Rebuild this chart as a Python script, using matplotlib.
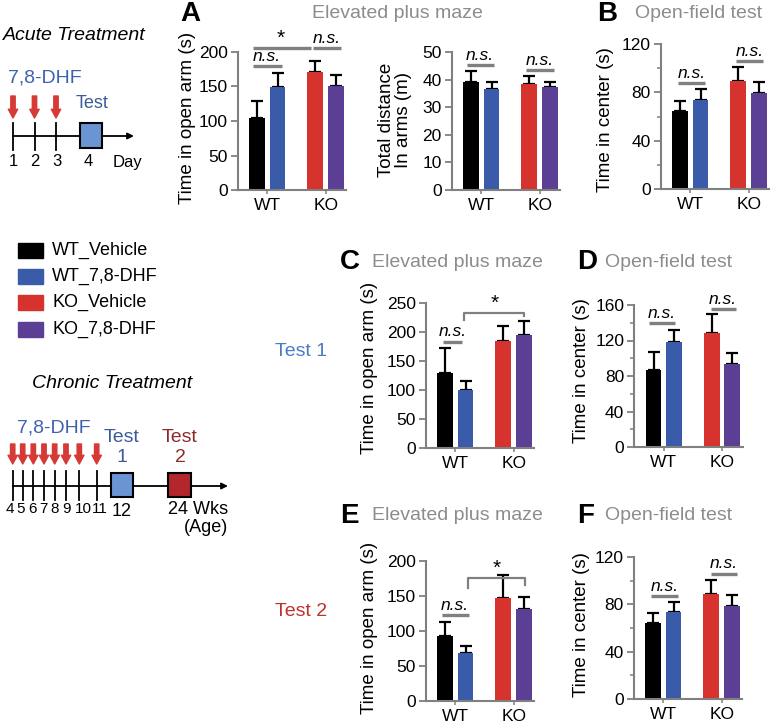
import numpy as np
import matplotlib
matplotlib.use("Agg")
import matplotlib.pyplot as plt
from matplotlib.patches import Rectangle

plt.rcParams['font.family'] = ['Liberation Sans', 'DejaVu Sans']

W, H = 773, 723

# groups and colours
groups = ['WT_Vehicle', 'WT_7,8-DHF', 'KO_Vehicle', 'KO_7,8-DHF']
colors = ['#000000', '#3a5ba9', '#d6322e', '#5b3f95']
pos = np.array([0, 1, 2.85, 3.85])
xlabels = ['WT', 'KO']

# values (mean, upper error)
A_arm = [105, 149, 171, 150]
A_arm_err = [24, 21, 15.5, 17]
A_dist = [39.2, 36.7, 38.3, 37.3]
A_dist_err = [3.9, 2.5, 3.0, 1.9]
B_center = [64.8, 74, 89.7, 79.4]
B_center_err = [8.2, 8.8, 11, 8.9]
C_arm = [129, 100, 184, 194]
C_arm_err = [44, 16, 26, 25]
D_center = [86.6, 117.8, 128, 93]
D_center_err = [20.7, 14, 21.5, 12.4]
E_arm = [93, 68, 147, 132]
E_arm_err = [19.5, 11, 33, 17]
F_center = [64, 73.4, 89, 78.8]
F_center_err = [8.5, 8.5, 11.8, 8.8]

acute_days = ['1', '2', '3', '4']
chronic_weeks = ['4', '5', '6', '7', '8', '9', '10', '11']

GRAY = '#808080'

fig = plt.figure(figsize=(W / 100, H / 100), dpi=100)


def fx(px):
    return px / W


def fy(py):
    return 1 - py / H


# overlay for schematic drawings (pixel coordinates)
ov = fig.add_axes([0, 0, 1, 1])
ov.set_xlim(0, W)
ov.set_ylim(H, 0)
ov.axis('off')

STEP = 20.5  # px per bar unit
XLIM = (-0.95, 4.35)


def panel(black_px, ybot, ytop, ymax, major, minor=None):
    left = black_px + XLIM[0] * STEP
    width = (XLIM[1] - XLIM[0]) * STEP
    ax = fig.add_axes([fx(left), fy(ybot), width / W, (ybot - ytop) / H])
    ax.set_xlim(*XLIM)
    ax.set_ylim(0, ymax)
    for s in ['top', 'right']:
        ax.spines[s].set_visible(False)
    for s in ['left', 'bottom']:
        ax.spines[s].set_color(GRAY)
        ax.spines[s].set_linewidth(1.5)
    ax.set_yticks(major)
    if minor is not None:
        ax.set_yticks(minor, minor=True)
    ax.tick_params(axis='y', which='major', length=5, width=1.3, color=GRAY,
                   labelsize=12.5, pad=2)
    ax.tick_params(axis='y', which='minor', length=3, width=1.1, color=GRAY)
    ax.set_xticks([0.5, 3.35])
    ax.set_xticklabels(xlabels)
    ax.tick_params(axis='x', length=3, width=1.1, color=GRAY, labelsize=12.5, pad=3)
    ax.patch.set_alpha(0)
    return ax


def bars(ax, vals, errs):
    ax.bar(pos, vals, width=0.78, color=colors, zorder=2)
    ax.errorbar(pos, vals, yerr=[np.zeros(4), errs], fmt='none', ecolor='black',
                elinewidth=1.6, capsize=4.5, capthick=1.6, zorder=1, clip_on=False)


def ns_line(ax, x0, x1, y, text='n.s.'):
    ax.plot([x0, x1], [y, y], color=GRAY, lw=2.4, clip_on=False, solid_capstyle='butt')
    ax.annotate(text, ((x0 + x1) / 2, y), xytext=(0, 1.5), textcoords='offset points',
                ha='center', va='bottom', fontsize=12.5, fontstyle='italic',
                annotation_clip=False)


def star_line(ax, x0, x1, y, xs):
    ax.plot([x0, x1], [y, y], color=GRAY, lw=2.4, clip_on=False, solid_capstyle='butt')
    ax.annotate('*', (xs, y), xytext=(0, 0), textcoords='offset points',
                ha='center', va='bottom', fontsize=15, annotation_clip=False)


def bracket(ax, x0, x1, y, yl, yr):
    ax.plot([x0, x0, x1, x1], [yl, y, y, yr], color=GRAY, lw=1.6, clip_on=False)
    ax.annotate('*', ((x0 + x1) / 2, y), xytext=(0, 0), textcoords='offset points',
                ha='center', va='bottom', fontsize=15, annotation_clip=False)


def title(letter, lx, text, tx, y):
    fig.text(fx(lx), fy(y), letter, fontsize=20, fontweight='bold', va='center', ha='left')
    fig.text(fx(tx), fy(y), text, fontsize=14, color='#8c8c8c', va='center', ha='left')


def ylab(x, y, text):
    fig.text(fx(x), fy(y), text, rotation=90, fontsize=13.5, va='center', ha='center',
             multialignment='center', linespacing=1.05)


# ---- Panel A
axA1 = panel(257, 190, 52, 200, [0, 50, 100, 150, 200])
bars(axA1, A_arm, A_arm_err)
ns_line(axA1, -0.2, 1.2, 179)
star_line(axA1, -0.2, 2.65, 206, 1.15)
ns_line(axA1, 2.75, 4.1, 206)
ylab(188, 118, 'Time in open arm (s)')

axA2 = panel(471, 190, 52, 50, [0, 10, 20, 30, 40, 50])
bars(axA2, A_dist, A_dist_err)
ns_line(axA2, -0.2, 1.1, 45.3)
ns_line(axA2, 2.7, 4.05, 43.5)
ylab(395, 120, 'Total distance\nIn arms (m)')
title('A', 180, 'Elevated plus maze', 312, 14)

# ---- Panel B
axB = panel(680, 189, 44, 120, [0, 40, 80, 120], [20, 60, 100])
bars(axB, B_center, B_center_err)
ns_line(axB, -0.1, 1.2, 87.7)
ns_line(axB, 2.75, 4.05, 105.7)
ylab(606, 120, 'Time in center (s)')
title('B', 597, 'Open-field test', 635, 14)

# ---- Panel C
axC = panel(445, 448, 303, 250, [0, 50, 100, 150, 200, 250])
bars(axC, C_arm, C_arm_err)
ns_line(axC, -0.1, 0.85, 183.6)
bracket(axC, 0.95, 3.85, 232.7, 220, 227)
ylab(370, 368, 'Time in open arm (s)')
title('C', 340, 'Elevated plus maze', 372, 262)

# ---- Panel D
axD = panel(653.5, 447, 305, 160, [0, 40, 80, 120, 160], [20, 60, 100, 140])
bars(axD, D_center, D_center_err)
ns_line(axD, -0.2, 1.05, 139.3)
ns_line(axD, 2.8, 4.0, 155.5)
ylab(582, 371, 'Time in center (s)')
title('D', 577, 'Open-field test', 605, 262)

# ---- Panel E
axE = panel(445, 701, 561, 200, [0, 50, 100, 150, 200])
bars(axE, E_arm, E_arm_err)
ns_line(axE, -0.15, 1.15, 123)
bracket(axE, 1.1, 3.9, 176, 161, 165.7)
ylab(370, 628, 'Time in open arm (s)')
title('E', 340, 'Elevated plus maze', 372, 516)

# ---- Panel F
axF = panel(653, 699, 557, 120, [0, 40, 80, 120], [20, 60, 100])
bars(axF, F_center, F_center_err)
ns_line(axF, -0.1, 1.2, 86.7)
ns_line(axF, 2.85, 4.1, 106)
ylab(582, 625, 'Time in center (s)')
title('F', 577, 'Open-field test', 605, 516)

# ---- Legend
for i, (g, c) in enumerate(zip(groups, colors)):
    yc = [250, 276, 302, 329][i]
    ov.add_patch(Rectangle((18, yc - 7.5), 25, 15, color=c))
    ov.text(52, yc, g, fontsize=13, va='center', ha='left')

# ---- Test labels
ov.text(275, 352, 'Test 1', fontsize=14, color='#4a7cc2', va='center', ha='left')
ov.text(275, 611, 'Test 2', fontsize=14, color='#c0312e', va='center', ha='left')

RED = '#d63a36'
DHF_BLUE = '#3f62ae'


def down_arrow(x, y0, y1):
    ov.annotate('', xy=(x, y1), xytext=(x, y0),
                arrowprops=dict(arrowstyle='simple,head_width=0.75,head_length=0.7,tail_width=0.35',
                                color=RED, mutation_scale=9, shrinkA=0, shrinkB=0))


# ---- Acute treatment schematic
ov.text(3, 35, 'Acute Treatment', fontsize=14, fontstyle='italic', va='center', ha='left')
ov.text(8, 78, '7,8-DHF', fontsize=14, color=DHF_BLUE, va='center', ha='left')
acute_x = [13, 34.5, 56, 91]
ov.annotate('', xy=(134, 136), xytext=(13, 136),
            arrowprops=dict(arrowstyle='-|>', color='black', lw=1.3, mutation_scale=9,
                            shrinkA=0, shrinkB=0))
for x in acute_x[:3]:
    ov.plot([x, x], [123, 150], color='black', lw=1.3)
    down_arrow(x, 96, 118)
ov.add_patch(Rectangle((80, 123), 22, 25, facecolor='#6b95d2', edgecolor='black', lw=1.5, zorder=3))
ov.text(92, 103, 'Test', fontsize=13, color='#3d5a99', va='center', ha='center')
for x, d in zip([13, 35, 57, 88], acute_days):
    ov.text(x, 162, d, fontsize=12, va='center', ha='center')
ov.text(113, 162, 'Day', fontsize=12, va='center', ha='left')

# ---- Chronic treatment schematic
ov.text(32, 383, 'Chronic Treatment', fontsize=14, fontstyle='italic', va='center', ha='left')
ov.text(17, 428, '7,8-DHF', fontsize=14, color=DHF_BLUE, va='center', ha='left')
chronic_x = [12.7, 22.7, 33.3, 44, 54.7, 66, 79.3, 96.7]
label_x = [9.5, 20.7, 32.3, 43.3, 55, 66.7, 83, 100]
ov.annotate('', xy=(228, 486), xytext=(12.7, 486),
            arrowprops=dict(arrowstyle='-|>', color='black', lw=1.3, mutation_scale=9,
                            shrinkA=0, shrinkB=0))
for x in chronic_x:
    ov.plot([x, x], [471, 500], color='black', lw=1.3)
    down_arrow(x, 444, 464)
for x, w in zip(label_x, chronic_weeks):
    ov.text(x, 509, w, fontsize=11, va='center', ha='center')
ov.add_patch(Rectangle((111, 473), 22, 24, facecolor='#6b95d2', edgecolor='black', lw=1.5, zorder=3))
ov.add_patch(Rectangle((168, 473), 23, 24, facecolor='#b3262b', edgecolor='black', lw=1.5, zorder=3))
ov.text(122, 437, 'Test', fontsize=14, color='#3d5a99', va='center', ha='center')
ov.text(122, 458, '1', fontsize=14, color='#3d5a99', va='center', ha='center')
ov.text(180, 437, 'Test', fontsize=14, color='#8e2a2a', va='center', ha='center')
ov.text(180, 458, '2', fontsize=14, color='#8e2a2a', va='center', ha='center')
ov.text(122, 511, '12', fontsize=13, va='center', ha='center')
ov.text(168, 509, '24 Wks', fontsize=13, va='center', ha='left')
ov.text(228, 528, '(Age)', fontsize=13, va='center', ha='right')

fig.savefig('out.png', dpi=100)
